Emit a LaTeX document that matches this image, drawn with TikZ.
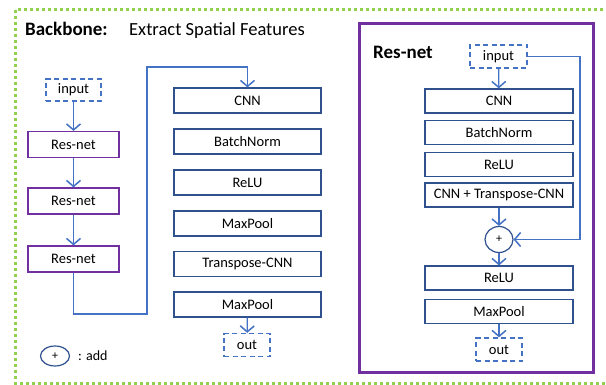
\documentclass[tikz,border=0pt]{standalone}
\usepackage{fontspec}
\setmainfont{Carlito}
\usepackage{xcolor}
\usetikzlibrary{arrows.meta,shapes.geometric}
\definecolor{boxblue}{HTML}{2F528F}
\definecolor{lineblue}{HTML}{4472C4}
\definecolor{respurple}{HTML}{7030A0}
\definecolor{dotgreen}{HTML}{92D050}

\begin{document}
\begin{tikzpicture}[x=1pt,y=-1pt,>={Straight Barb[length=6pt,width=14pt,line width=1.5pt]}]
            \tikzstyle{every node}+=[inner sep=0pt, font=\fontsize{14.5}{17}\selectfont]
            \tikzstyle{layer}=[draw=boxblue, line width=1.2pt, minimum width=147pt, minimum height=25pt]
            \tikzstyle{rlayer}=[layer, minimum width=148pt, minimum height=24pt]
            \tikzstyle{resbox}=[draw=respurple, line width=1.2pt, minimum width=91pt, minimum height=26pt]
            \tikzstyle{io}=[draw=lineblue, line width=1.3pt, dash pattern=on 5pt off 3.5pt]
            \tikzstyle{flow}=[draw=lineblue, line width=1.3pt, ->]
            \tikzstyle{addop}=[ellipse, draw=boxblue, line width=1.2pt, font=\fontsize{12}{14}\selectfont]
            \useasboundingbox (0,0) rectangle (606,385);
            % backbone frame
            \draw [dotgreen, line width=3pt, dash pattern=on 3pt off 3pt] (15,10) rectangle (620,383);
            \node [anchor=base west, font=\fontsize{19}{22}\selectfont\bfseries] (bbtitle) at (25,36) {Backbone:};
            \node [anchor=base west, font=\fontsize{18.5}{22}\selectfont] (bbsub) at (129,36) {Extract Spatial Features};
            % left column
            \node [io, minimum width=55pt, minimum height=22pt] (bin) at (73.5,90) {input};
            \node [resbox] (res1) at (73.5,144.5) {Res-net};
            \node [resbox] (res2) at (73.5,201) {Res-net};
            \node [resbox] (res3) at (73.5,259) {Res-net};
            \draw [flow] (bin) -- (res1);
            \draw [flow] (res1) -- (res2);
            \draw [flow] (res2) -- (res3);
            % middle column
            \node [layer] (cnn) at (247.5,100.5) {CNN};
            \node [layer] (bnorm) at (247.5,141.5) {BatchNorm};
            \node [layer] (relu) at (247.5,182.5) {ReLU};
            \node [layer] (pool) at (247.5,223.5) {MaxPool};
            \node [layer] (tcnn) at (247.5,264) {Transpose-CNN};
            \node [layer] (poolb) at (247.5,304.5) {MaxPool};
            \node [io, minimum width=46pt, minimum height=23pt] (bout) at (247,345) {out};
            \draw [flow] (poolb) -- (bout);
            \coordinate (bendlow) at (147,314);
            \coordinate (bendhigh) at (147,67);
            \draw [flow] (res3) -- (res3 |- bendlow) -- (bendlow) -- (bendhigh) -| (cnn.north);
            % legend
            \node [addop, minimum width=29pt, minimum height=20pt] (legadd) at (55,356) {+};
            \node [anchor=base west, font=\fontsize{14}{16}\selectfont] (legtext) at (78,360) {: add};
            % res-net detail
            \draw [respurple, line width=3pt] (359,24) rectangle (593,372);
            \node [anchor=base west, font=\fontsize{19}{22}\selectfont\bfseries] (rtitle) at (373,59) {Res-net};
            \node [io, minimum width=57pt, minimum height=23pt] (rin) at (498.5,56.5) {input};
            \node [rlayer] (rcnn) at (499,101) {CNN};
            \node [rlayer] (rbnorm) at (499,132.5) {BatchNorm};
            \node [rlayer] (rrelu) at (499,164.5) {ReLU};
            \node [rlayer] (rmix) at (499,195) {CNN + Transpose-CNN};
            \node [addop, minimum width=28pt, minimum height=26pt] (plus) at (499,239.5) {+};
            \node [rlayer] (rrelub) at (499,278) {ReLU};
            \node [rlayer] (rpool) at (499,311.5) {MaxPool};
            \node [io, minimum width=46pt, minimum height=23pt] (rout) at (499,349.5) {out};
            \draw [flow] (rin) -- (rcnn);
            \draw [flow] (rmix) -- (plus);
            \draw [flow] (plus) -- (rrelub);
            \draw [flow] (rpool) -- (rout);
            \coordinate (skip) at (580,239.5);
            \draw [flow] (rin.east) -| (skip) -- (plus.east);
        \end{tikzpicture}
\end{document}
